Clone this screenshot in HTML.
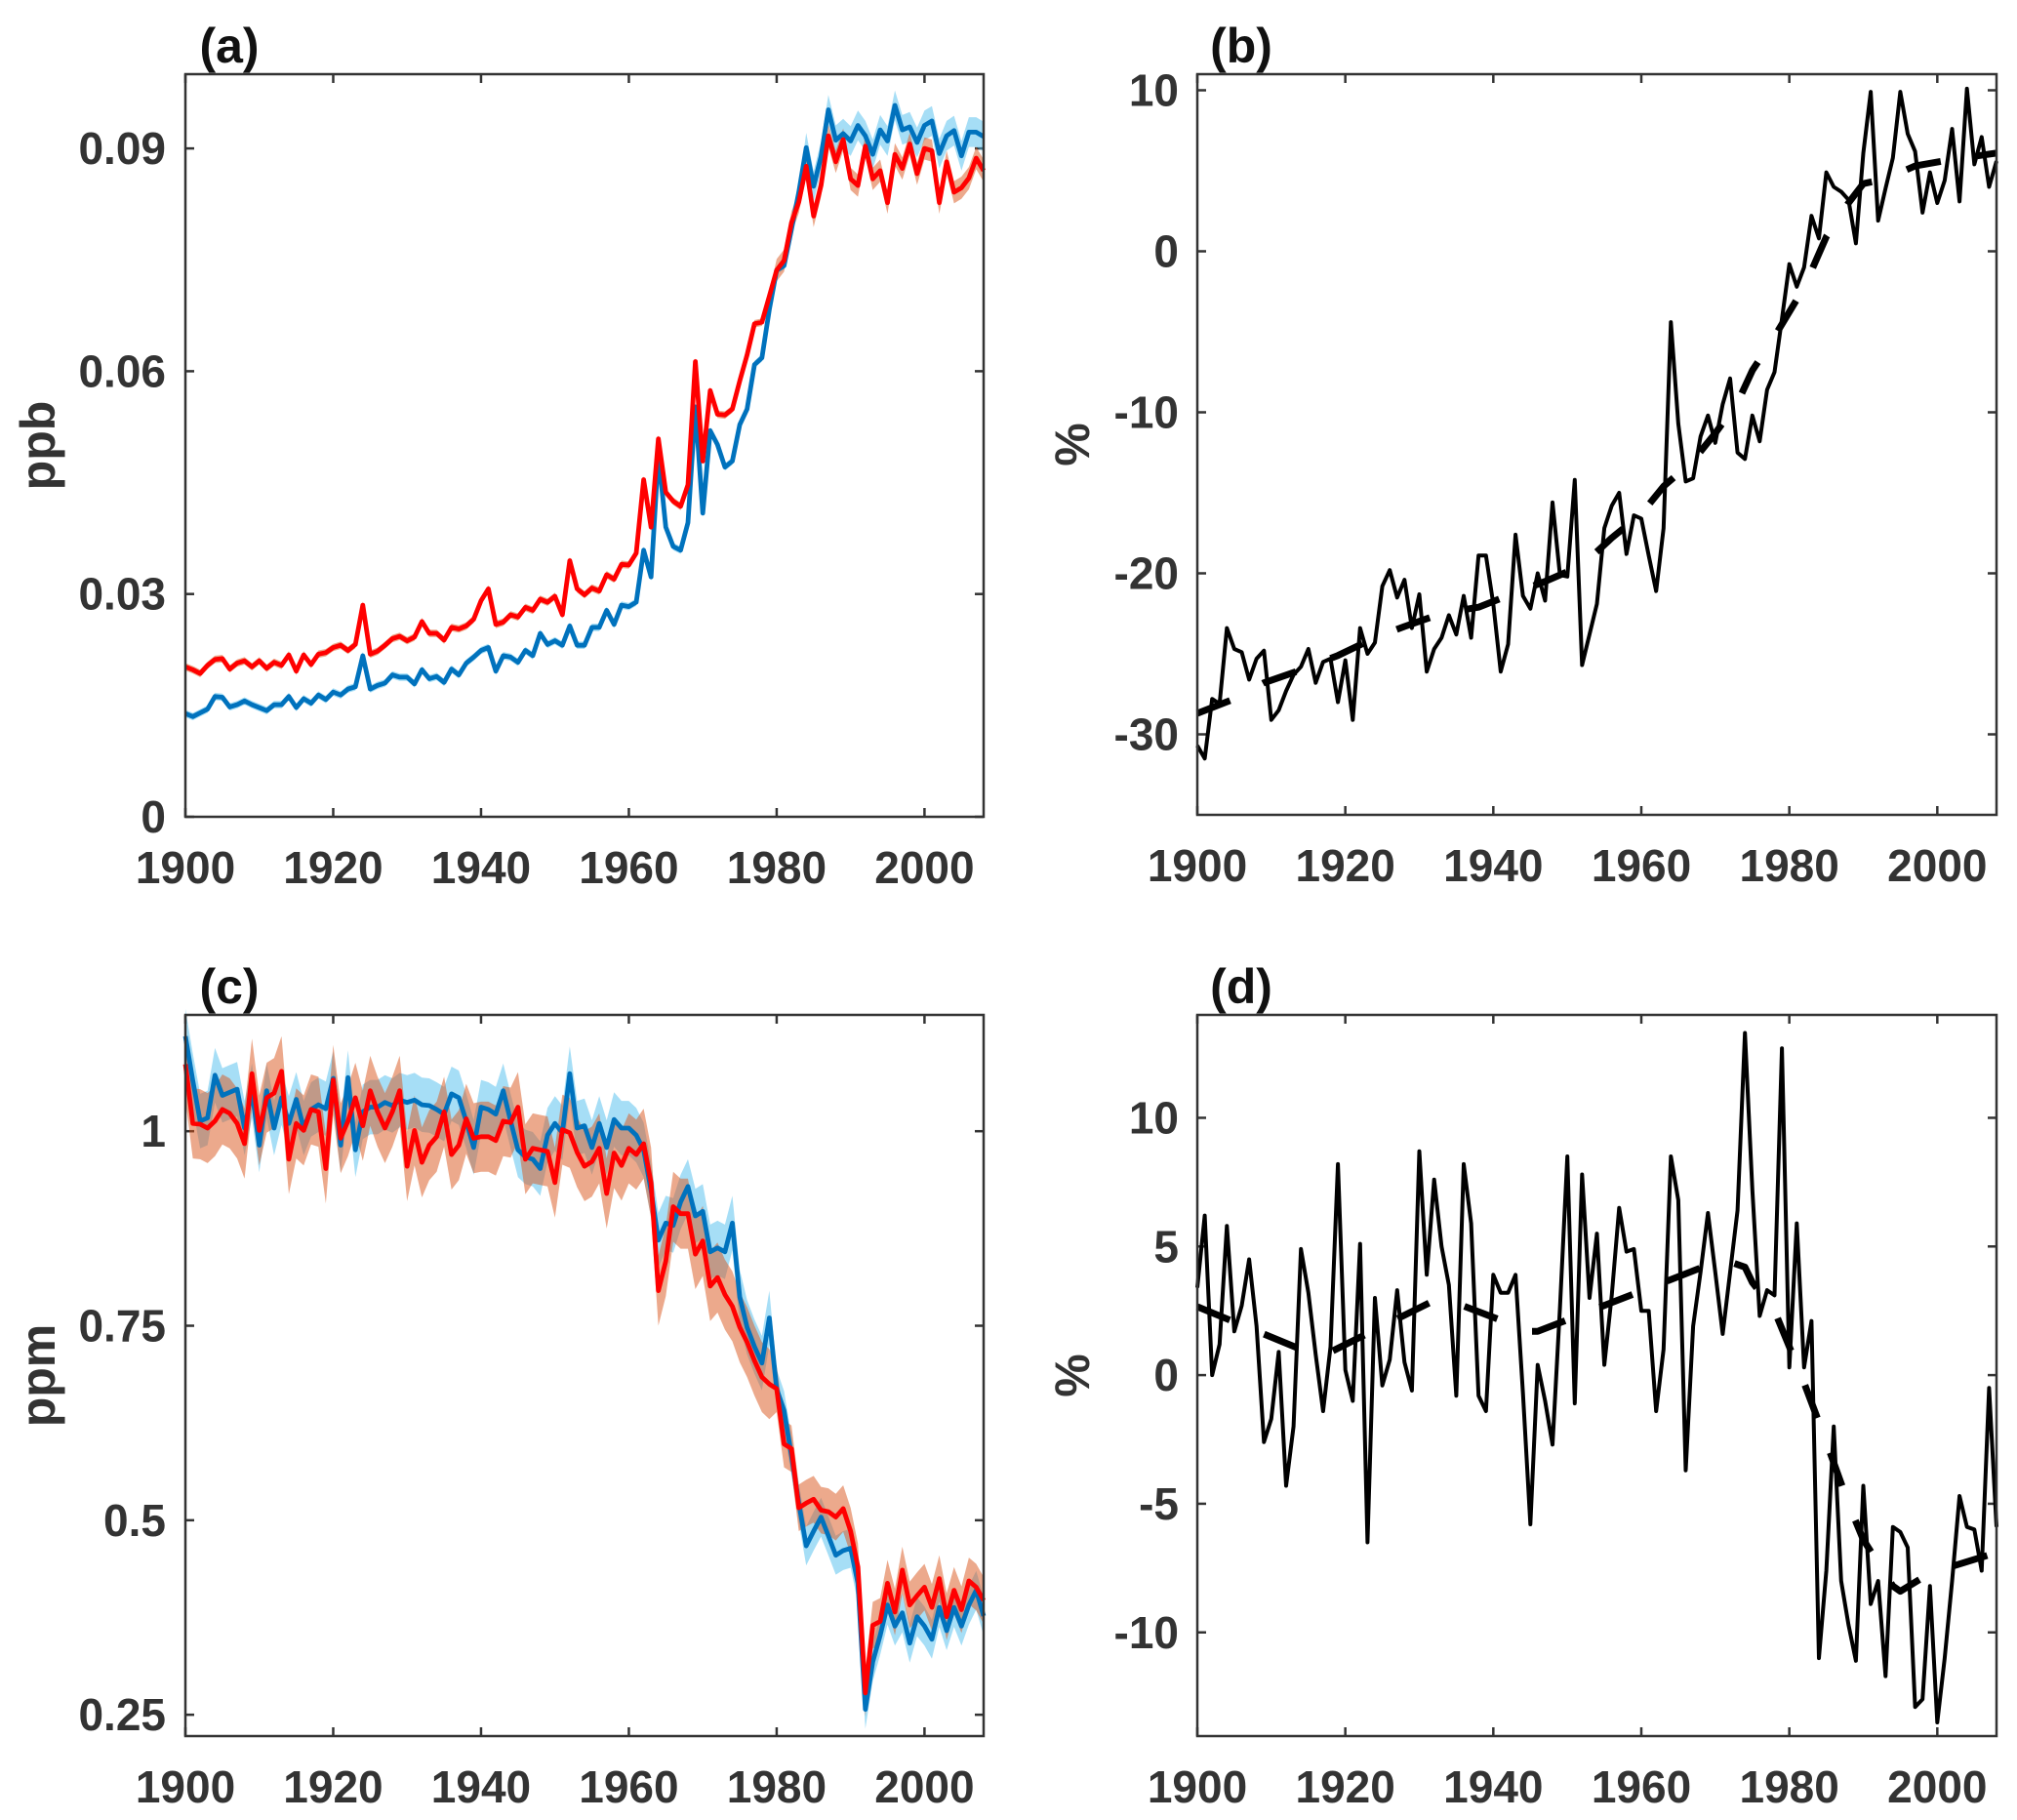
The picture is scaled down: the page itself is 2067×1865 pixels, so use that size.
<!DOCTYPE html>
<html><head><meta charset="utf-8">
<style>
html,body{margin:0;padding:0;background:#fff;}
svg{display:block;}
text{font-family:"Liberation Sans",Arial,sans-serif;font-weight:bold;fill:#333;}
</style></head>
<body>
<svg id="fig" xmlns="http://www.w3.org/2000/svg" width="2067" height="1865" viewBox="0 0 2067 1865"></svg>
<script>
const years = [];
for (let y = 1900; y <= 2008; y++) years.push(y);

const aRed = [.0202,.0198,.0193,.0204,.0212,.0213,.0199,.0207,.0210,.0202,
.0210,.0200,.0208,.0204,.0218,.0196,.0218,.0205,.0219,.0221,
.0228,.0231,.0224,.0232,.0285,.0219,.0223,.0231,.0240,.0243,
.0237,.0242,.0263,.0247,.0247,.0238,.0255,.0253,.0257,.0266,
.0291,.0307,.0259,.0262,.0272,.0269,.0282,.0278,.0293,.0289,
.0297,.0272,.0345,.0307,.0299,.0308,.0304,.0326,.0320,.0340,
.0339,.0355,.0454,.0390,.0509,.0437,.0425,.0418,.0447,.0613,
.0479,.0574,.0542,.0541,.0549,.0587,.0622,.0664,.0666,.0701,
.0736,.0749,.0800,.0828,.0876,.0809,.0850,.0917,.0882,.0912,
.0859,.0850,.0903,.0859,.0870,.0827,.0892,.0873,.0906,.0866,
.0900,.0897,.0827,.0882,.0841,.0847,.0860,.0887,.0870];
const aBlue = [.0139,.0135,.0140,.0145,.0162,.0161,.0148,.0151,.0156,.0151,
.0147,.0143,.0151,.0151,.0162,.0147,.0159,.0153,.0164,.0158,
.0168,.0164,.0172,.0175,.0217,.0172,.0177,.0180,.0191,.0188,
.0188,.0179,.0198,.0186,.0189,.0181,.0199,.0191,.0207,.0215,
.0224,.0228,.0196,.0217,.0215,.0208,.0224,.0217,.0247,.0232,
.0237,.0231,.0257,.0231,.0231,.0255,.0255,.0278,.0259,.0285,
.0283,.0289,.0359,.0323,.0488,.0390,.0364,.0359,.0396,.0552,
.0409,.0520,.0501,.0471,.0479,.0528,.0549,.0609,.0618,.0683,
.0736,.0742,.0791,.0841,.0901,.0849,.0889,.0952,.0911,.0920,
.0910,.0931,.0917,.0892,.0925,.0910,.0958,.0925,.0929,.0908,
.0931,.0937,.0893,.0917,.0924,.0890,.0922,.0922,.0916];
const aRedErr = [0.0005, 0.0015];
const aBlueErr = [0.0005, 0.002];

const bPct = [-30.7,-31.5,-27.8,-28.1,-23.4,-24.7,-24.9,-26.6,-25.3,-24.8,
-29.1,-28.5,-27.3,-26.3,-25.8,-24.7,-26.8,-25.5,-25.3,-28.0,
-25.4,-29.1,-23.4,-25.0,-24.3,-20.8,-19.8,-21.5,-20.4,-23.4,
-21.3,-26.1,-24.7,-24.0,-22.6,-23.8,-21.4,-24.0,-18.9,-18.9,
-21.9,-26.1,-24.4,-17.6,-21.4,-22.2,-20.0,-21.7,-15.6,-20.1,
-20.2,-14.2,-25.7,-23.8,-21.9,-17.2,-15.8,-15.0,-18.8,-16.4,
-16.6,-18.9,-21.1,-17.2,-4.4,-10.7,-14.3,-14.1,-11.5,-10.2,
-11.9,-9.5,-7.9,-12.5,-12.9,-10.2,-11.8,-8.6,-7.5,-4.2,
-0.8,-2.2,-1.0,2.2,0.8,4.9,4.0,3.7,3.2,0.5,
6.1,9.9,1.9,3.9,5.8,9.9,7.3,6.2,2.4,4.9,
3.0,4.4,7.6,3.1,10.1,5.4,7.1,4.0,5.6];
const bTrendYears = [1900,1905,1909,1914,1919,1924,1928,1933,1938,1943,1947,1952,1956,1960,1963,1967,1970,1973,1975,1978,1981,1983,1985,1988,1990,1993,1997,2002,2008];
const bTrendVals  = [-28.7,-27.8,-26.8,-26.0,-25.1,-24.0,-23.3,-22.5,-22.1,-21.2,-20.5,-19.5,-17.8,-16.3,-14.6,-13.0,-11.3,-9.4,-7.4,-5.3,-3.0,-1.2,0.9,3.0,4.2,4.5,5.3,5.7,6.1];

const cRed = [1.086,1.010,1.009,1.004,1.013,1.028,1.023,1.010,0.984,1.074,
1.001,1.043,1.049,1.077,0.964,1.010,1.001,1.028,1.025,0.952,
1.066,0.991,1.013,1.043,1.007,1.052,1.025,1.004,1.025,1.052,
0.955,1.001,0.960,0.982,0.993,1.025,0.970,0.982,1.016,0.991,
0.993,0.993,0.988,1.013,1.011,1.031,0.964,0.978,0.976,0.974,
0.934,1.002,0.998,0.973,0.955,0.961,0.978,0.920,0.972,0.956,
0.978,0.970,0.984,0.934,0.795,0.833,0.903,0.894,0.894,0.842,
0.859,0.801,0.812,0.790,0.775,0.748,0.729,0.705,0.684,0.675,
0.669,0.598,0.592,0.516,0.522,0.527,0.513,0.511,0.504,0.515,
0.486,0.440,0.278,0.365,0.370,0.419,0.382,0.436,0.391,0.403,
0.414,0.388,0.425,0.376,0.410,0.385,0.422,0.414,0.397];
const cBlue = [1.122,1.065,1.013,1.017,1.072,1.046,1.050,1.054,1.004,1.052,
0.982,1.052,1.004,1.043,1.010,1.041,1.004,1.028,1.034,1.029,
1.068,0.982,1.069,0.976,1.025,1.031,1.031,1.037,1.033,1.040,
1.037,1.040,1.034,1.033,1.028,1.022,1.048,1.043,1.013,0.979,
1.031,1.028,1.022,1.052,1.013,0.976,0.967,0.964,0.952,0.995,
1.010,0.998,1.074,1.004,1.007,0.979,1.010,0.979,1.015,1.004,
1.004,0.995,0.976,0.924,0.860,0.882,0.879,0.909,0.929,0.891,
0.897,0.845,0.850,0.845,0.882,0.787,0.748,0.723,0.702,0.760,
0.669,0.641,0.583,0.522,0.467,0.486,0.504,0.480,0.455,0.461,
0.464,0.419,0.257,0.318,0.352,0.391,0.364,0.381,0.342,0.376,
0.364,0.347,0.388,0.358,0.388,0.364,0.391,0.410,0.377];
const cRedErr = [0.045, 0.03];
const cBlueErr = [0.035, 0.025];

const dPct = [3.4,6.2,0,1.2,5.8,1.7,2.7,4.5,1.9,-2.6,
-1.7,0.9,-4.3,-2.0,4.9,3.2,0.8,-1.4,1.1,8.2,
0.2,-1.0,5.1,-6.5,3.0,-0.4,0.6,3.3,0.5,-0.6,
8.7,3.9,7.6,5.0,3.5,-0.8,8.2,5.9,-0.8,-1.4,
3.9,3.2,3.2,3.9,-0.7,-5.8,0.4,-1.0,-2.7,2.6,
8.5,-1.1,7.8,3.0,5.5,0.4,3.1,6.5,4.8,4.9,
2.5,2.5,-1.4,1.0,8.5,6.8,-3.7,1.9,4.0,6.3,
4.0,1.6,4.0,6.4,13.3,7.2,2.3,3.3,3.1,12.7,
0.3,5.9,0.3,2.1,-11.0,-7.6,-2.0,-8.0,-9.7,-11.1,
-4.3,-8.9,-8.0,-11.7,-5.9,-6.1,-6.7,-12.9,-12.6,-8.2,
-13.5,-11.0,-8.0,-4.7,-5.9,-6.0,-7.6,-0.5,-5.9];
const dTrendYears = [1900,1914,1918,1932,1934,1945,1946,1971,1974,1975,1978,1980,1982,1985,1988,1990,1994,1995,1999,2008];
const dTrendVals  = [2.66,1.0,0.9,2.9,2.9,1.7,1.7,4.5,4.2,3.6,2.5,1.1,-0.3,-2.6,-5.0,-6.4,-8.2,-8.4,-7.7,-6.9];

const aTicks = [0, 0.03, 0.06, 0.09], aTickLabels = ["0","0.03","0.06","0.09"];
const bTicks = [-30,-20,-10,0,10], bTickLabels = ["-30","-20","-10","0","10"];
const cTicks = [0.25,0.5,0.75,1], cTickLabels = ["0.25","0.5","0.75","1"];
const dTicks = [-10,-5,0,5,10], dTickLabels = ["-10","-5","0","5","10"];
const xTicks = [1900,1920,1940,1960,1980,2000], xTickLabels = ["1900","1920","1940","1960","1980","2000"];

const NS = "http://www.w3.org/2000/svg";
const svg = document.getElementById('fig');
function mk(tag, attrs, parent) {
  const e = document.createElementNS(NS, tag);
  for (const k in attrs) e.setAttribute(k, attrs[k]);
  (parent || svg).appendChild(e);
  return e;
}
function makeAxes(L, R, T, B, y0, y1) {
  const x = v => L + (v - 1900) * (R - L) / 108;
  const y = v => B - (v - y0) * (B - T) / (y1 - y0);
  return {x, y, L, R, T, B};
}
function frame(ax, name, ticks, labels, title, ylab, labelRight, ylabX) {
  const g = mk('g', {});
  
  
  ticks.forEach((t, i) => {
    const yy = ax.y(t);
    mk('line', {x1: ax.L, x2: ax.L + 9, y1: yy, y2: yy, stroke: '#333', 'stroke-width': 2.5}, g);
    mk('line', {x1: ax.R, x2: ax.R - 9, y1: yy, y2: yy, stroke: '#333', 'stroke-width': 2.5}, g);
    const tx = mk('text', {x: labelRight, y: yy + 16, 'text-anchor': 'end', 'font-size': 46}, g);
    tx.textContent = labels[i];
    
    
  });
  xTicks.forEach((t, i) => {
    const xx = ax.x(t);
    mk('line', {x1: xx, x2: xx, y1: ax.B, y2: ax.B - 9, stroke: '#333', 'stroke-width': 2.5}, g);
    mk('line', {x1: xx, x2: xx, y1: ax.T, y2: ax.T + 9, stroke: '#333', 'stroke-width': 2.5}, g);
    const tx = mk('text', {x: xx, y: ax.B + 68, 'text-anchor': 'middle', 'font-size': 46}, g);
    tx.textContent = xTickLabels[i];
    
    
  });
  const tt = mk('text', {x: ax.L + 45, y: ax.T - 12, 'text-anchor': 'middle', 'font-size': 50, style: 'fill:#111'}, g);
  tt.textContent = title;
  
  
  const cy = (ax.T + ax.B) / 2;
  const yl = mk('text', {x: ylabX, y: cy, 'text-anchor': 'middle', 'font-size': 50, transform: 'rotate(-90 ' + ylabX + ' ' + cy + ')'}, g);
  yl.textContent = ylab;
  
  
}
function box(ax, name) {
  const r = mk('rect', {x: ax.L, y: ax.T, width: ax.R - ax.L, height: ax.B - ax.T, fill: 'none', stroke: '#333', 'stroke-width': 2.5});
  
  
}
function linePath(ax, xs, vals) {
  return xs.map((v, i) => (i ? 'L' : 'M') + ax.x(v).toFixed(1) + ' ' + ax.y(vals[i]).toFixed(1)).join(' ');
}
function band(ax, vals, err, splitYear, fill, name) {
  const e = yr => (yr < splitYear ? err[0] : err[1]);
  let d = years.map((yr, i) => (i ? 'L' : 'M') + ax.x(yr).toFixed(1) + ' ' + ax.y(vals[i] + e(yr)).toFixed(1)).join(' ');
  for (let i = years.length - 1; i >= 0; i--) d += ' L' + ax.x(years[i]).toFixed(1) + ' ' + ax.y(vals[i] - e(years[i])).toFixed(1);
  const p = mk('path', {d: d + ' Z', fill: fill, stroke: 'none'});
  
  
}
function series(ax, xs, vals, color, w, name, dash) {
  const attrs = {d: linePath(ax, xs, vals), fill: 'none', stroke: color, 'stroke-width': w, 'stroke-linejoin': 'round'};
  if (dash) attrs['stroke-dasharray'] = dash;
  const p = mk('path', attrs);
  
  
}

// Panel a
const A = makeAxes(190, 1008, 76, 837, 0, 0.1);
frame(A, 'panel-a', aTicks, aTickLabels, '(a)', 'ppb', 170, 56);
band(A, aBlue, aBlueErr, 1984, 'rgba(77,190,238,0.5)', 'panel-a-blue-band');
band(A, aRed, aRedErr, 1980, 'rgba(217,83,25,0.5)', 'panel-a-red-band');
series(A, years, aBlue, '#0072bd', 4.8, 'panel-a-blue-line');
series(A, years, aRed, '#ff0000', 4.8, 'panel-a-red-line');
box(A, 'panel-a');

// Panel b
const Bx = makeAxes(1227, 2046, 76, 835, -35, 11);
frame(Bx, 'panel-b', bTicks, bTickLabels, '(b)', '%', 1208, 1116);
series(Bx, years, bPct, '#000', 4, 'panel-b-line');
series(Bx, bTrendYears, bTrendVals, '#000', 7, 'panel-b-trend', '36 38');
box(Bx, 'panel-b');

// Panel c
const C = makeAxes(190, 1008, 1040, 1779, 0.2226, 1.1495);
frame(C, 'panel-c', cTicks, cTickLabels, '(c)', 'ppm', 170, 56);
band(C, cBlue, cBlueErr, 1980, 'rgba(77,190,238,0.5)', 'panel-c-blue-band');
band(C, cRed, cRedErr, 1980, 'rgba(217,83,25,0.5)', 'panel-c-red-band');
series(C, years, cBlue, '#0072bd', 4.8, 'panel-c-blue-line');
series(C, years, cRed, '#ff0000', 4.8, 'panel-c-red-line');
box(C, 'panel-c');

// Panel d
const D = makeAxes(1227, 2046, 1040, 1779, -14.03, 14.0);
frame(D, 'panel-d', dTicks, dTickLabels, '(d)', '%', 1208, 1116);
series(D, years, dPct, '#000', 4, 'panel-d-line');
series(D, dTrendYears, dTrendVals, '#000', 7, 'panel-d-trend', '36 38');
box(D, 'panel-d');
</script>
</body></html>
